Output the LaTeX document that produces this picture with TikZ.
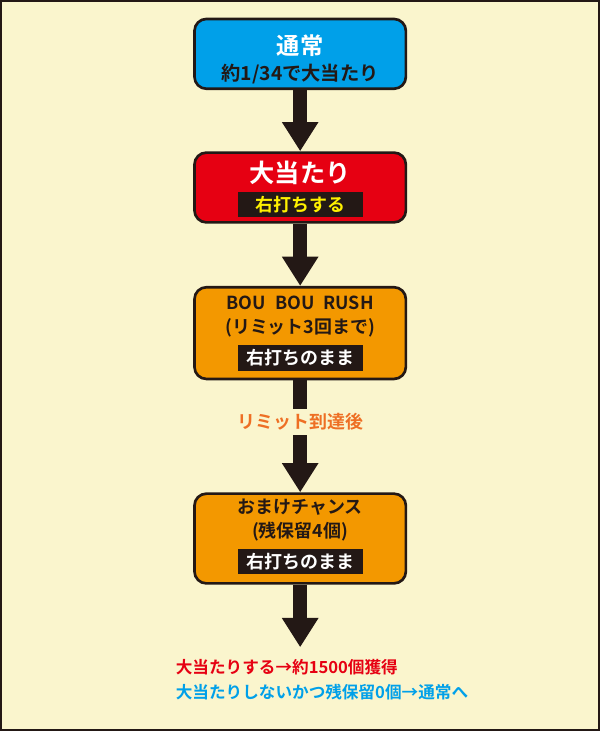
\documentclass[tikz,border=0pt]{standalone}
\usepackage{fontspec}
\setmainfont{Noto Sans CJK JP}[BoldFont={* Bold}]
\usetikzlibrary{arrows.meta}
\definecolor{bg_yellow}{HTML}{FAF5CD}
\definecolor{box_blue}{HTML}{00A0E9}
\definecolor{box_red}{HTML}{E60012}
\definecolor{box_orange}{HTML}{F39800}
\definecolor{dark_brown}{HTML}{231815}
\definecolor{note_orange}{HTML}{EE6F24}
\definecolor{mark_yellow}{HTML}{FFF100}

\begin{document}
\begin{tikzpicture}[x=0.75pt,y=-0.75pt,
    box/.style={draw=dark_brown,line width=2pt,rounded corners=9pt,minimum width=159pt},
    tag/.style={fill=dark_brown,minimum width=94pt,minimum height=19pt,inner sep=0pt,font=\bfseries\fontsize{13.5}{15}\selectfont},
    flow/.style={dark_brown,line width=10.5pt,-{Triangle[width=26pt,length=22pt]}}]
    \draw[fill=bg_yellow,draw=dark_brown,line width=1.5pt] (0,0) rectangle (600,731);
    % boxes
    \node[box,fill=box_blue,minimum height=52.5pt] (normal) at (300,53) {};
    \node[text=white,font=\bfseries\fontsize{17.5}{19}\selectfont] (normalt) at (300,45) {通常};
    \node[font=\bfseries\fontsize{14.5}{16}\selectfont,text=dark_brown] (normals) at (300,73) {約1/34で大当たり};
    \node[box,fill=box_red,minimum height=52.5pt] (hit) at (300,187) {};
    \node[text=white,font=\bfseries\fontsize{19}{21}\selectfont] (hitt) at (300,172) {大当たり};
    \node[tag,text=mark_yellow] (hits) at (300,204) {右打ちする};
    \node[box,fill=box_orange,minimum height=69pt] (rush) at (300,333) {};
    \node[font=\bfseries\fontsize{13.5}{15}\selectfont,text=dark_brown] (rusht) at (300,303) {BOU\hspace{0.5em}BOU\hspace{0.5em}RUSH};
    \node[font=\bfseries\fontsize{13.5}{15}\selectfont,text=dark_brown] (rushm) at (300,328) {(リミット3回まで)};
    \node[tag,text=white] (rushs) at (300,358) {右打ちのまま};
    \node[box,fill=box_orange,minimum height=67.5pt] (bonus) at (300,539) {};
    \node[font=\bfseries\fontsize{13.5}{15}\selectfont,text=dark_brown] (bonust) at (300,508) {おまけチャンス};
    \node[font=\bfseries\fontsize{13.5}{15}\selectfont,text=dark_brown] (bonusm) at (300,532) {(残保留4個)};
    \node[tag,text=white] (bonuss) at (300,562) {右打ちのまま};
    % notes
    \node[text=note_orange,font=\bfseries\fontsize{13.5}{15}\selectfont] (limit) at (300,422) {リミット到達後};
    \node[text=box_red,anchor=west,font=\bfseries\fontsize{12.5}{14}\selectfont,inner sep=0pt] (win) at (175,668) {大当たりする→約1500個獲得};
    \node[text=box_blue,anchor=west,font=\bfseries\fontsize{12.5}{14}\selectfont,inner sep=0pt] (lose) at (175,693) {大当たりしないかつ残保留0個→通常へ};
    \coordinate (end) at (300,648);
    % arrows
    \draw[flow] (normal.south) -- (hit.north);
    \draw[flow] (hit.south) -- (rush.north);
    \draw[dark_brown,line width=10.5pt] (rush.south) -- (limit.north);
    \draw[flow] (limit.south) -- (bonus.north);
    \draw[flow] (bonus.south) -- (end);
\end{tikzpicture}
\end{document}
